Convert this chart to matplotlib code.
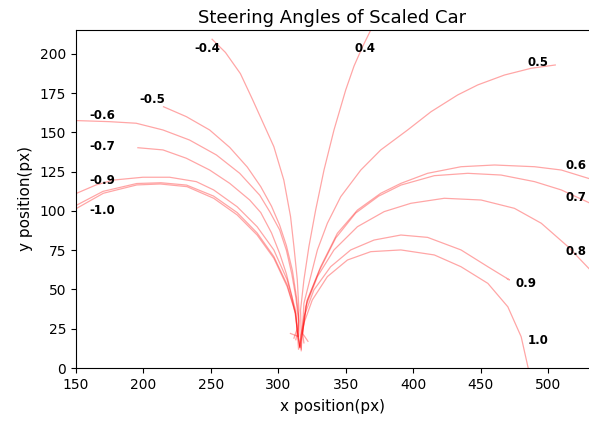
import matplotlib
matplotlib.use("Agg")
import matplotlib.pyplot as plt

# ---- trajectory data (x, y in px) ----
x_m04 = [313, 314.5, 315.3, 314.1, 311.6, 309.1, 304.1, 296.7, 288, 280.9, 271.9, 260.8, 250.9]
y_m04 = [18, 24, 36.9, 56.1, 77.3, 96.4, 119.7, 141, 157.5, 171, 187.5, 201, 209.4]

x_m05 = [316, 315, 315.5, 313.5, 310.5, 306, 301, 295, 287, 277, 264.0, 249.1, 231.8, 214.9]
y_m05 = [13, 20, 30, 45, 62, 78, 91, 103, 115.5, 128, 140.5, 151.6, 160.1, 166.4]

x_m06 = [309, 315, 315, 313, 310, 306, 301, 293.7, 286.3, 271.4, 254.1, 234.2, 214.5, 194.6, 174.8, 150, 140]
y_m06 = [22, 20, 30, 45, 60, 75, 88, 99.5, 110, 124.0, 135.7, 145.2, 151.6, 155.9, 156.9, 157.6, 157.5]

x_m07 = [316, 314.5, 313, 310, 306, 301, 295, 287, 278.8, 264.0, 249.1, 231.8, 214.5, 195.9]
y_m07 = [13, 20, 32, 46, 60, 73, 86, 99, 107.0, 117.6, 126.1, 133.6, 138.9, 140.3]

x_m08 = [316, 314, 312.8, 306.6, 296.7, 284.3, 269.5, 252, 232, 213, 195, 170, 150, 140]
y_m08 = [14, 24, 35, 53, 71, 86, 99, 109.5, 116.5, 118, 117.5, 112.5, 103.5, 98]

x_m09 = [311.6, 314, 312.8, 306.6, 296.7, 284.3, 269.5, 252.1, 239.2, 219.4, 199.6, 177.7, 164.9, 150.5, 140]
y_m09 = [19, 25, 36.9, 56.1, 75.2, 90.0, 102.7, 113.4, 118.7, 121.5, 121.5, 119.7, 116.6, 111.3, 106]

x_m10 = [315, 314, 312.8, 306.6, 296.7, 284.3, 269.5, 252.1, 232.3, 212.5, 195.1, 170.3, 150.5, 140]
y_m10 = [12, 24, 34.8, 51.8, 69.9, 84.7, 97.5, 108.1, 115.5, 117.2, 116.6, 111.3, 101.7, 95]

x_p04 = [316, 317, 316.5, 319.0, 322.7, 327.7, 333.9, 341.3, 350.0, 356.2, 362.4, 368.6, 370.8]
y_p04 = [13, 22, 36.9, 56.1, 77.3, 100.6, 126.1, 151.6, 177.1, 192.4, 204.5, 215.3, 220.4]

x_p05 = [317, 318, 319, 324, 329, 336.4, 346.3, 361.2, 376.0, 395.9, 413.2, 433.0, 447.9, 467.7, 487.5, 505.4]
y_p05 = [12, 25, 41.2, 58.2, 75.2, 92.2, 109.1, 126.1, 138.9, 151.6, 163.2, 173.9, 180.3, 186.6, 190.9, 193.0]

x_p06 = [322, 318, 321.5, 331.4, 343.8, 358.7, 376.0, 390.9, 410.7, 435.5, 460.3, 490.0, 509.9, 531.4, 540]
y_p06 = [17, 22, 43.3, 64.5, 85.8, 100.6, 111.3, 117.6, 124.0, 128.2, 129.3, 128.2, 126.1, 120.4, 116]

x_p07 = [316, 318, 321, 330.7, 342.6, 357.4, 374.5, 390.9, 415.7, 440.5, 465.2, 490.0, 509.9, 531.4, 540]
y_p07 = [14, 22, 42, 62.4, 82.8, 98.7, 109.5, 116.5, 122.5, 124.0, 122.9, 118.7, 113.4, 104.9, 100]

x_p08 = [319, 318, 320.3, 329.0, 341.3, 358.7, 378.5, 398.3, 423.1, 450.4, 475.1, 495.0, 514.8, 531.4, 540]
y_p08 = [16, 22, 39.0, 58.2, 75.2, 90.0, 99.6, 104.9, 108.1, 107.0, 101.7, 92.2, 77.3, 62.4, 52]

x_p09 = [316, 317, 319, 326.4, 338.8, 353.7, 371.0, 390.9, 410.7, 435.5, 455.4, 471.4, 469.5]
y_p09 = [14, 22, 32.7, 49.7, 64.5, 75.2, 81.5, 84.7, 83.2, 75.2, 64.5, 56.1, 57]

x_p10 = [317, 317, 319, 325.2, 336.4, 351.3, 368.6, 390.9, 415.7, 435.5, 455.4, 470.2, 480.1, 485.3, 486]
y_p10 = [11, 21, 28.5, 43.3, 58.2, 68.8, 74.1, 75.2, 72.0, 64.5, 53.9, 39.0, 19.9, 0, -5]

# ---- annotation labels ----
label_text = ["-0.4", "-0.5", "-0.6", "-0.7", "-0.9", "-1.0",
              "0.4", "0.5", "0.6", "0.7", "0.8", "0.9", "1.0"]
label_x = [247.4, 206.5, 169.3, 169.3, 169.3, 169.3,
           364.1, 492.7, 521.0, 521.0, 521.0, 483.8, 492.7]
label_y = [203.8, 171.3, 161.1, 140.8, 119.7, 100.0,
           203.8, 194.3, 128.7, 108.3, 74.5, 54.1, 17.2]

x_ticks = [150, 200, 250, 300, 350, 400, 450, 500]
y_ticks = [0, 25, 50, 75, 100, 125, 150, 175, 200]

curves = [(x_m04, y_m04), (x_m05, y_m05), (x_m06, y_m06), (x_m07, y_m07),
          (x_m08, y_m08), (x_m09, y_m09), (x_m10, y_m10),
          (x_p04, y_p04), (x_p05, y_p05), (x_p06, y_p06), (x_p07, y_p07),
          (x_p08, y_p08), (x_p09, y_p09), (x_p10, y_p10)]

fig = plt.figure(figsize=(5.89, 4.21), dpi=100)
ax = fig.add_axes([76 / 589, 53 / 421, 513 / 589, 338.5 / 421])

for xs, ys in curves:
    ax.plot(xs, ys, color="red", alpha=0.35, lw=0.9)

for t, lx, ly in zip(label_text, label_x, label_y):
    ax.text(lx, ly, t, fontsize=8.5, fontweight="bold", color="black",
            ha="center", va="center")

ax.set_xlim(150, 530.4)
ax.set_ylim(0, 215.6)
ax.set_xticks(x_ticks)
ax.set_yticks(y_ticks)
ax.spines["right"].set_visible(False)
ax.set_title("Steering Angles of Scaled Car", fontsize=13, pad=5)
ax.set_xlabel("x position(px)", fontsize=11, labelpad=5)
ax.set_ylabel("y position(px)", fontsize=11, labelpad=5)

fig.savefig("out.png", dpi=100)
